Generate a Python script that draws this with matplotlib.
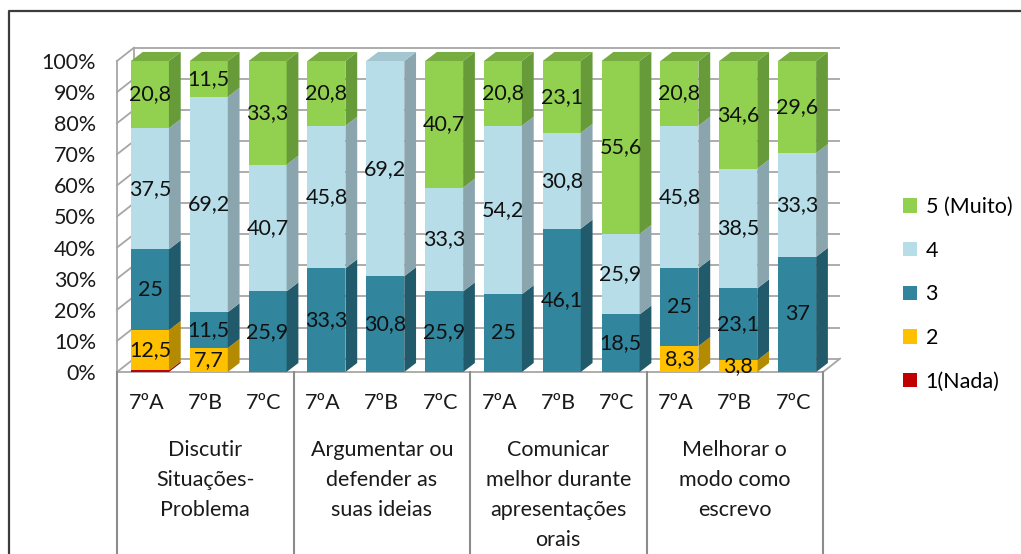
import matplotlib
matplotlib.use("Agg")
import matplotlib.pyplot as plt
from matplotlib.patches import Rectangle, Polygon, Patch
from matplotlib.lines import Line2D
import matplotlib.transforms as mtransforms

plt.rcParams['font.family'] = ['Lato', 'DejaVu Sans']

# ---- data -------------------------------------------------------------
classes = ["7ºA", "7ºB", "7ºC"] * 4
groups = [
    ["Discutir", "Situações-", "Problema"],
    ["Argumentar ou", "defender as", "suas ideias"],
    ["Comunicar", "melhor durante", "apresentações", "orais"],
    ["Melhorar o", "modo como", "escrevo"],
]
series_names = ["1(Nada)", "2", "3", "4", "5 (Muito)"]
nada = [0.5, 0, 0, 0, 0, 0, 0, 0, 0, 0, 0, 0]
dois = [12.5, 7.7, 0, 0, 0, 0, 0, 0, 0, 8.3, 3.8, 0]
tres = [25, 11.5, 25.9, 33.3, 30.8, 25.9, 25, 46.1, 18.5, 25, 23.1, 37]
quatro = [37.5, 69.2, 40.7, 45.8, 69.2, 33.3, 54.2, 30.8, 25.9, 45.8, 38.5, 33.3]
cinco = [20.8, 11.5, 33.3, 20.8, 0, 40.7, 20.8, 23.1, 55.6, 20.8, 34.6, 29.6]
yticks = list(range(0, 101, 10))

series = [nada, dois, tres, quatro, cinco]
show_label = [False, True, True, True, True]

# front / side / top shades for each series
shades = [
    ("#C00000", "#8C0000", "#A30000"),
    ("#FFC000", "#B38A00", "#D9A400"),
    ("#31859C", "#215A6A", "#2A7487"),
    ("#B7DDE8", "#8AA5AE", "#A3C6D1"),
    ("#92D050", "#679A38", "#76AC40"),
]

W, H = 1021, 554
fig = plt.figure(figsize=(W / 100, H / 100), dpi=100)
fig.patch.set_facecolor("white")

ax = fig.add_axes([117 / W, (H - 372) / H, (823 - 117) / W, 311 / H])
ax.set_xlim(-0.5, 11.5)
ax.set_ylim(0, 100)
for sp in ax.spines.values():
    sp.set_visible(False)
ax.set_xticks([])
ax.set_yticks(yticks)
ax.set_yticklabels([f"{t}%" for t in yticks], fontsize=15.5, color="#1a1a1a")
ax.tick_params(axis="y", length=0, pad=15)

# depth of the walls and of the bars, in data units
wdx, wdy = 0.29, 4.3
bdx, bdy = 0.2, 2.9
bw = 0.646
bshift = 0.06
grid_c = "#A6A6A6"
n = len(classes)
x_left, x_right = -0.5, n - 0.5

# back wall grid, left wall and floor
for t in yticks:
    ax.plot([x_left + wdx, x_right + wdx], [t + wdy, t + wdy], color=grid_c, lw=1.3,
            zorder=1, clip_on=False, solid_capstyle="butt")
    ax.plot([x_left, x_left + wdx], [t, t + wdy], color=grid_c, lw=1.3,
            zorder=1, clip_on=False)
ax.plot([x_left, x_left], [0, 100], color=grid_c, lw=1.3, zorder=1, clip_on=False)
ax.plot([x_left + wdx, x_left + wdx], [wdy, 100 + wdy], color=grid_c, lw=1.3,
        zorder=1, clip_on=False)
ax.plot([x_right, x_right + wdx], [0, wdy], color=grid_c, lw=1.3, zorder=1,
        clip_on=False)
ax.plot([x_left, x_right], [0, 0], color=grid_c, lw=1.3, zorder=1, clip_on=False)

# 3D stacked bars (100% stacked)
for i in range(n):
    vals = [s[i] for s in series]
    total = sum(vals)
    xc = i + bshift
    x0, x1 = xc - bw / 2, xc + bw / 2
    bottom = 0.0
    top_color = None
    for k, v in enumerate(vals):
        if v <= 0:
            continue
        h = v / total * 100
        front, side, top = shades[k]
        ax.add_patch(Rectangle((x0, bottom), bw, h, facecolor=front,
                               edgecolor="none", zorder=3, clip_on=False))
        ax.add_patch(Polygon([(x1, bottom), (x1 + bdx, bottom + bdy),
                              (x1 + bdx, bottom + h + bdy), (x1, bottom + h)],
                             closed=True, facecolor=side, edgecolor="none",
                             zorder=3, clip_on=False))
        if show_label[k]:
            ax.text(xc, bottom + h / 2, f"{v:g}".replace(".", ","),
                    ha="center", va="center", fontsize=15.5, color="#111111",
                    zorder=6, clip_on=False)
        bottom += h
        top_color = top
    ax.add_patch(Polygon([(x0, bottom), (x0 + bdx, bottom + bdy),
                          (x1 + bdx, bottom + bdy), (x1, bottom)],
                         closed=True, facecolor=top_color, edgecolor="none",
                         zorder=3, clip_on=False))

# category axis: class labels, group labels and separators
trans = mtransforms.blended_transform_factory(ax.transData, ax.transAxes)
px = 1 / 311  # one pixel in axes-height units
for g in range(len(groups) + 1):
    xs = x_left + 3 * g
    ax.plot([xs, xs], [0, -200 * px], color="#8C8C8C", lw=1.5, transform=trans,
            clip_on=False, zorder=2)
for i, lab in enumerate(classes):
    ax.text(i, -31 * px, lab, transform=trans, ha="center", va="center",
            fontsize=15.5, color="#1a1a1a")
for g, lines in enumerate(groups):
    xc = 3 * g + 1
    for j, line in enumerate(lines):
        ax.text(xc, (-78 - 30 * j) * px, line, transform=trans, ha="center",
                va="center", fontsize=15.5, color="#1a1a1a")

# legend
handles = [Patch(facecolor=shades[k][0], edgecolor="none", label=series_names[k])
           for k in range(len(series) - 1, -1, -1)]
fig.legend(handles=handles, loc="upper left", bbox_to_anchor=(903 / W, 1 - 197 / H),
           frameon=False, fontsize=15.5, handlelength=0.65, handleheight=0.65,
           handletextpad=0.4, labelspacing=1.1, borderaxespad=0, borderpad=0)

# outer chart border (top and left edges)
fig.add_artist(Line2D([9 / W, 9 / W, 1.0], [0.0, 1 - 11 / H, 1 - 11 / H],
                      color="#3C3C3C", lw=1.6, transform=fig.transFigure))

fig.savefig("out.png", dpi=100, facecolor="white")
